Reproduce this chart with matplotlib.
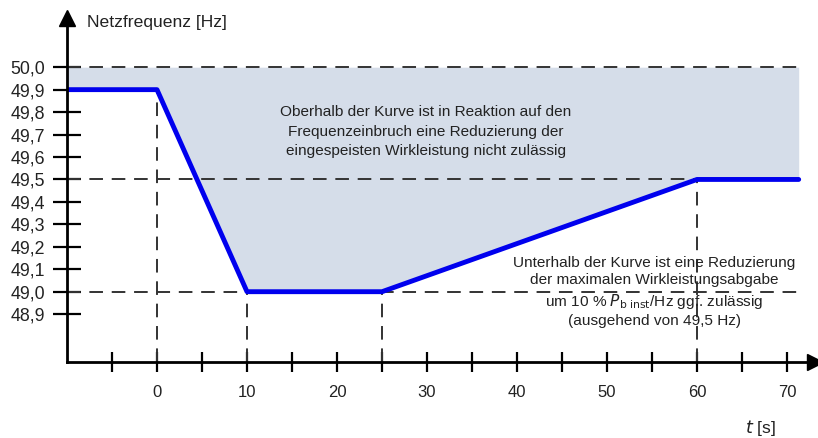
import matplotlib
matplotlib.use("Agg")
import matplotlib.pyplot as plt
import numpy as np

# data
t_curve = [-10, 0, 10, 25, 60, 71.3]
f_curve = [49.9, 49.9, 49.0, 49.0, 49.5, 49.5]
y_ticks = [48.9, 49.0, 49.1, 49.2, 49.3, 49.4, 49.5, 49.6, 49.7, 49.8, 49.9, 50.0]
y_labels = ["48,9", "49,0", "49,1", "49,2", "49,3", "49,4", "49,5", "49,6", "49,7", "49,8", "49,9", "50,0"]
x_major = [0, 10, 20, 30, 40, 50, 60, 70]
x_minor = [-5, 5, 15, 25, 35, 45, 55, 65]
h_dashes = [50.0, 49.5, 49.0]
v_dashes_t = [0, 10, 25, 60]
v_dashes_f = [49.9, 49.0, 49.0, 49.5]

plt.rcParams['font.family'] = ['Liberation Sans', 'DejaVu Sans']

W, H = 818, 438
fig = plt.figure(figsize=(W / 100, H / 100), dpi=100)
x0, xend = 67, 815
ybase, ytop = 362, 18
ax = fig.add_axes([x0 / W, (H - ybase) / H, (xend - x0) / W, (ybase - ytop) / H])
px_per_s = 9.0
px_per_hz = 224.5
y49 = 291.7
ax.set_xlim(-10, -10 + (xend - x0) / px_per_s)
ax.set_ylim(49.0 - (ybase - y49) / px_per_hz, 49.0 + (y49 - ytop) / px_per_hz)

fill_col = '#d5dde9'
ax.fill_between(t_curve, f_curve, 50.0, color=fill_col, lw=0, zorder=1)

dash = dict(color='#333333', lw=1.4, dashes=(7, 4.5), zorder=2)
for yv in h_dashes:
    ax.plot([-10, t_curve[-1]], [yv, yv], **dash)
ymin = ax.get_ylim()[0]
for tv, fv in zip(v_dashes_t, v_dashes_f):
    ax.plot([tv, tv], [ymin, fv], **dash)

ax.plot(t_curve, f_curve, color='#0000ee', lw=3.5, solid_capstyle='round',
        solid_joinstyle='round', zorder=3)

for s in ['top', 'right']:
    ax.spines[s].set_visible(False)
for s in ['left', 'bottom']:
    ax.spines[s].set_linewidth(2)
    ax.spines[s].set_zorder(4)

ax.set_xticks(x_major)
ax.set_xticklabels([str(v) for v in x_major], fontsize=12, color='#222222')
ax.set_xticks(x_minor, minor=True)
ax.tick_params(axis='x', which='both', direction='inout', length=15, width=1.6, pad=9)
ax.set_yticks(y_ticks)
ax.set_yticklabels(y_labels, fontsize=12.8, color='#222222')
ax.tick_params(axis='y', which='both', direction='inout', length=20, width=1.6, pad=5.5)

# arrows
ax.plot([1], [0], marker='>', ms=11, color='black', transform=ax.transAxes, clip_on=False)
ax.plot([0], [1], marker='^', ms=11, color='black', transform=ax.transAxes, clip_on=False)

fig.text(87 / W, 1 - 22 / H, "Netzfrequenz [Hz]", fontsize=12.6, ha='left', va='center', color='#222222')
fig.text(745 / W, 1 - 428 / H, "$\\mathit{t}$ [s]", fontsize=12.6, ha='left', va='center', color='#222222')

txt1 = ("Oberhalb der Kurve ist in Reaktion auf den\n"
        "Frequenzeinbruch eine Reduzierung der\n"
        "eingespeisten Wirkleistung nicht zulässig")
fig.text(426 / W, 1 - 132 / H, txt1, fontsize=11.1, ha='center', va='center',
         linespacing=1.5, color='#222222')

txt2 = ("Unterhalb der Kurve ist eine Reduzierung\n"
        "der maximalen Wirkleistungsabgabe\n"
        "um 10 % $P_{\\mathrm{b\\ inst}}$/Hz ggf. zulässig\n"
        "(ausgehend von 49,5 Hz)")
fig.text(654 / W, 1 - 292 / H, txt2, fontsize=11.1, ha='center', va='center',
         linespacing=1.3, color='#222222')

fig.savefig("out.png", dpi=100)
